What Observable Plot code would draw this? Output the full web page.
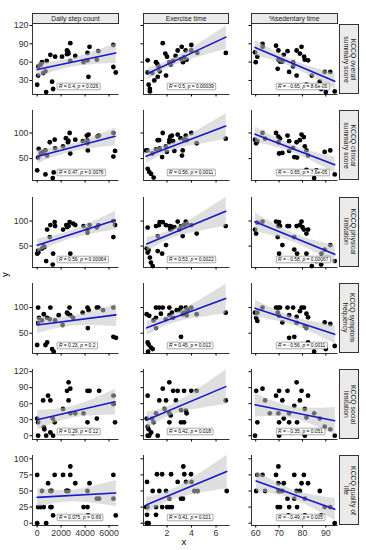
<!DOCTYPE html>
<html><head><meta charset="utf-8">
<script src="https://cdn.jsdelivr.net/npm/d3@7"></script>
<script src="https://cdn.jsdelivr.net/npm/@observablehq/plot@0.6"></script>
<style>
body{margin:0;background:#fff;font-family:"Liberation Sans",Arial,sans-serif;}
#chart{position:relative;width:366px;height:550px;overflow:hidden;background:#fff;}
.strip{position:absolute;box-sizing:border-box;border:0.8px solid #333;background:#ebebeb;color:#1a1a1a;font-size:6.8px;display:flex;align-items:center;justify-content:center;line-height:1.1;}
.strip span{white-space:pre;text-align:center;}
.strip.right span{transform:rotate(90deg);}
.axtitle{position:absolute;font-size:9.5px;color:#000;}
.panel{position:absolute;}
</style></head><body><div id="chart"></div><script>
// ---------- labels ----------
const colNames = ["Daily step count", "Exercise time", "%sedentary time"];
const rowNames = ["KCCQ overall\nsummary score", "KCCQ clinical\nsummary score", "KCCQ physical\nlimitation",
                  "KCCQ symptom\nfrequency", "KCCQ social\nlimitation", "KCCQ quality of\nlife"];
const xTicks = [[0, 2000, 4000, 6000], [2, 4, 6], [60, 70, 80, 90]];
const yTicks = [[30, 60, 90, 120], [50, 100], [50, 100], [50, 100], [0, 30, 60, 90, 120], [0, 25, 50, 75, 100]];
const xDomains = [[-390, 6830], [0.08, 7.14], [58.2, 95.2]];
const yDomains = [[7, 121.6], [7.2, 144], [7.2, 147], [10.4, 147], [-7.1, 124], [-3.6, 105.1]];
const annX = [1650, 2.0, 68.7];
const annText = [
  ["R = 0.4, p = 0.026", "R = 0.5, p = 0.00039", "R = - 0.65, p = 8.6e-05"],
  ["R = 0.47, p = 0.0076", "R = 0.56, p = 0.0011", "R = - 0.65, p = 7.6e-05"],
  ["R = 0.59, p = 0.00064", "R = 0.53, p = 0.0022", "R = - 0.58, p = 0.00067"],
  ["R = 0.23, p = 0.2", "R = 0.45, p = 0.012", "R = - 0.56, p = 0.0011"],
  ["R = 0.29, p = 0.12", "R = 0.42, p = 0.018", "R = - 0.35, p = 0.051"],
  ["R = 0.075, p = 0.69", "R = 0.41, p = 0.021", "R = - 0.49, p = 0.005"]
];

// ---------- data: [x, y] per panel ----------
const overallSteps = [[0,23],[80,38],[100,53],[400,60],[800,62],[500,42],[690,45],[1100,72],[1500,69],[1245,28],[750,11],[1330,16],[2075,69],[2490,79],[2570,77],[2620,74],[2765,91],[2765,62],[3180,70],[3870,60],[4200,63],[4200,75],[4370,85],[4280,36],[5110,78],[4980,64],[6360,88],[6360,52],[6560,43],[2490,73],[300,56]];
const overallExercise = [[0.42,63],[0.42,43],[0.5,23],[0.6,16],[0.6,12],[0.96,30],[1.24,36],[1.1,60],[1.2,57],[1.65,91],[1.86,74],[1.92,38],[2.19,60],[2.3,56],[2.87,79],[3.14,65],[3.52,79],[3.39,68],[3.98,88],[3.98,79],[3.6,64],[4.47,75],[6.8,75],[2.5,62],[3.3,60],[1.4,45],[2.0,69],[3.2,85],[1.3,53],[2.7,70],[0.8,42]];
const overallSedentary = [[59.7,76],[60,60],[60.7,69],[62.9,90],[68.7,87],[69.7,79],[69.7,64],[69.4,49],[70.4,61],[71.4,61],[73.6,78],[74.3,44],[76,53],[77.5,79],[78.9,74],[79.6,85],[77.5,38],[80.7,69],[81,64],[82.4,63],[81.7,23],[87.4,28],[89.5,44],[91.9,44],[93.8,12],[72,72],[76,60],[84,38],[88,16],[90,11],[63,85]];
const clinicalSteps = [[0,27],[80,52],[130,69],[500,63],[690,66],[830,56],[1050,82],[1460,87],[690,19],[1380,23],[1300,12],[2160,74],[2400,90],[2570,82],[2710,100],[2760,60],[3180,87],[3810,84],[4150,95],[4290,97],[4200,86],[4230,66],[5030,93],[5150,95],[6360,100],[6500,65],[6360,54],[4200,80],[2600,85],[1500,70],[300,60]];
const clinicalExercise = [[0.29,66],[0.42,30],[0.55,24],[0.7,20],[0.91,13],[0.4,66],[1.1,68],[1.24,86],[1.35,86],[1.65,100],[1.98,63],[1.6,53],[2.19,82],[2.27,93],[2.4,95],[2.87,97],[3.28,66],[3.22,56],[3.53,95],[3.98,100],[3.39,87],[3.6,86],[4.42,80],[6.79,89],[2.5,84],[1.9,74],[3.1,90],[2.2,87],[0.8,60],[1.4,70],[2.6,65]];
const clinicalSedentary = [[59.7,87],[60.2,80],[60.7,84],[62.9,100],[64,89],[68.7,100],[69.7,93],[70.4,89],[69.7,82],[70,60],[71.4,61],[73.6,95],[74.3,84],[74.3,65],[76,71],[76.5,53],[77.7,52],[77.5,82],[78.9,86],[79.6,97],[80.6,92],[81,74],[81.7,66],[82.4,56],[81.7,28],[89.5,63],[91.9,66],[93.8,19],[85,12],[90,23],[86,27]];
const physicalSteps = [[0,35],[80,41],[100,37],[550,50],[600,48],[830,83],[1100,92],[1050,68],[1460,98],[750,20],[1300,13],[1330,35],[2160,83],[2430,92],[2620,90],[2765,35],[2710,98],[3180,92],[3870,90],[4200,83],[4200,77],[4370,92],[5110,92],[4980,87],[6360,100],[6500,92],[6360,68],[2500,88],[1500,90],[400,45],[3000,95]];
const physicalExercise = [[0.42,87],[0.34,45],[0.42,37],[0.6,27],[0.69,17],[0.83,10],[1.1,90],[1.35,92],[1.24,70],[1.65,98],[1.24,40],[1.6,35],[1.92,52],[2.19,90],[2.27,83],[2.4,85],[2.87,99],[3.28,70],[3.14,90],[3.53,99],[3.39,92],[3.98,92],[4.42,75],[6.79,90],[3.6,95],[2.6,88],[1.9,92],[0.5,42],[3.0,83],[2.3,90],[1.4,98]];
const physicalSedentary = [[59.7,83],[60.2,75],[60.7,97],[62.9,99],[68.7,99],[69.7,90],[70.4,90],[69.4,68],[71.4,52],[70,35],[73.6,90],[74.3,90],[76.5,68],[76.5,43],[77.7,35],[77.5,90],[78.9,92],[79.6,99],[80.6,83],[81.7,75],[82.4,83],[81.7,35],[88.1,35],[89.5,43],[91.9,52],[93.8,20],[84,10],[88,13],[70,98],[80,88],[86,20]];
const symptomSteps = [[80,100],[1100,100],[550,87],[830,80],[1050,77],[2490,90],[2570,88],[2760,85],[4200,100],[4300,95],[4980,100],[5100,100],[6360,100],[0,27],[80,70],[690,27],[830,32],[1245,19],[1380,14],[2120,66],[4230,60],[6360,43],[6580,41],[400,75],[150,80],[1500,75],[3000,80],[3800,90],[5500,95],[2700,100],[1800,85]];
const symptomExercise = [[0.34,87],[0.55,84],[1.1,100],[1.35,100],[1.65,100],[1.1,80],[2.19,100],[2.4,90],[2.79,95],[3.14,100],[3.28,87],[0.42,32],[0.5,28],[0.69,22],[0.83,19],[0.45,14],[1.1,60],[3.14,43],[3.53,100],[3.98,100],[3.39,90],[3.6,85],[4.42,87],[6.79,90],[1.9,77],[2.5,80],[3.0,95],[1.5,88],[2.2,85],[0.9,75],[3.7,95]];
const symptomSedentary = [[59.7,90],[60.2,80],[60.7,90],[62.9,100],[68.7,100],[69.7,100],[70.4,100],[69.4,90],[70,84],[73.6,100],[76,100],[79.6,100],[78.9,93],[80.6,100],[74.3,85],[77.5,82],[81.7,88],[82.4,81],[60.7,74],[71.4,71],[77.5,70],[81,64],[81.7,60],[74.3,41],[76.5,43],[82.4,32],[89.5,71],[91.9,68],[93.8,25],[85,14],[90,19]];
const socialSteps = [[0,32],[80,25],[500,66],[910,75],[1100,66],[550,16],[600,12],[1300,32],[1460,25],[2160,50],[2490,84],[2620,100],[2765,88],[2620,66],[2765,42],[3180,42],[3870,42],[4200,84],[4370,84],[4200,25],[4980,32],[5170,84],[6360,75],[6360,59],[6500,25],[80,0],[750,0],[1100,6],[1330,0],[3000,5],[4500,10]];
const socialExercise = [[0.42,75],[0.34,32],[0.42,17],[0.5,12],[0.78,32],[1.1,42],[1.37,66],[1.65,88],[1.92,66],[2.19,100],[2.19,42],[2.3,38],[2.73,66],[2.87,84],[2.19,25],[3.14,25],[3.14,48],[3.39,84],[3.98,84],[4.42,84],[3.53,47],[3.6,42],[3.39,25],[6.79,66],[0.42,0],[0.55,0],[0.7,6],[1.24,0],[1.8,50],[2.5,84],[0.9,25]];
const socialSedentary = [[60.2,84],[62.9,88],[64,66],[60.7,25],[68.7,75],[70,84],[71.4,66],[69.7,42],[70,25],[73.6,84],[74.3,42],[74.3,25],[77.5,100],[76.5,56],[77.7,25],[78.9,66],[79.6,84],[81,50],[81.7,34],[82.4,75],[87.4,32],[89.5,17],[91.9,12],[59.7,0],[93.8,0],[70,0],[75,6],[81,0],[66,42],[72,32],[85,42]];
const qolSteps = [[0,75],[0,0],[80,25],[400,50],[550,25],[750,0],[910,62],[1100,50],[1200,50],[1100,25],[1330,12],[1460,75],[2160,75],[2430,50],[2600,50],[2765,75],[2765,88],[3180,62],[3870,25],[4200,25],[4200,50],[4370,62],[4250,12],[4980,38],[5170,38],[6360,75],[6360,38],[6560,12],[1200,25],[2500,50],[300,25]];
const qolExercise = [[0.37,64],[0.29,25],[0.4,25],[0.37,13],[0.35,0],[0.42,0],[0.5,0],[0.83,50],[1.1,13],[1.1,25],[1.18,76],[1.6,76],[1.37,50],[1.6,25],[1.92,50],[2.0,25],[2.2,25],[2.4,25],[2.19,38],[2.33,76],[2.87,64],[3.14,38],[3.33,88],[3.41,76],[3.3,38],[3.55,64],[3.96,76],[4.0,64],[4.23,50],[4.5,50],[6.87,50]];
const qolSedentary = [[60.2,50],[60.7,75],[62.9,75],[64,50],[68.7,75],[69.7,88],[69.7,62],[69.7,50],[70.4,50],[69.4,25],[70.4,25],[71.4,50],[73.6,38],[74.3,25],[76.5,75],[76.5,38],[77.5,50],[78.9,50],[77.7,25],[79.6,62],[80.6,75],[81,38],[82.4,62],[87.4,50],[89.5,25],[91.9,25],[93.8,0],[74,12],[81,12],[88,12],[72,62]];

const panels = [
  [overallSteps, overallExercise, overallSedentary],
  [clinicalSteps, clinicalExercise, clinicalSedentary],
  [physicalSteps, physicalExercise, physicalSedentary],
  [symptomSteps, symptomExercise, symptomSedentary],
  [socialSteps, socialExercise, socialSedentary],
  [qolSteps, qolExercise, qolSedentary]
];

// ---------- layout ----------
const colLeft = [32.3, 142.8, 251];
const rowTop = [24.2, 110.4, 196.6, 282.8, 369, 455.2];
const PW = 86.5, PH = 70;
const ML = 30, MR = 2, MT = 2, MB = 16;
const chart = document.getElementById("chart");
const NS = "http://www.w3.org/2000/svg";
const fmt = d => String(d);
const blank = () => "";

function boxAnnotations(svg) {
  const texts = Array.from(svg.querySelectorAll("text")).filter(t => /^R = /.test(t.textContent));
  texts.forEach(t => {
    const s = t.textContent;
    const m = s.match(/^R(.*), p(.*)$/);
    if (m) {
      while (t.firstChild) t.removeChild(t.firstChild);
      const add = (txt, it) => {
        const ts = document.createElementNS(NS, "tspan");
        ts.textContent = txt;
        if (it) ts.setAttribute("font-style", "italic");
        t.appendChild(ts);
      };
      add("R", true); add(m[1] + ", ", false); add("p", true); add(m[2], false);
    }
    let b;
    try { b = t.getBBox(); } catch (e) { b = null; }
    if (!b || !b.width) return;
    const rect = document.createElementNS(NS, "rect");
    rect.setAttribute("x", b.x - 1.8);
    rect.setAttribute("y", b.y - 0.8);
    rect.setAttribute("width", b.width + 3.6);
    rect.setAttribute("height", b.height + 1.6);
    rect.setAttribute("rx", 0.8);
    rect.setAttribute("fill", "#ffffff");
    rect.setAttribute("stroke", "#555555");
    rect.setAttribute("stroke-width", "0.5");
    const tr = t.getAttribute("transform");
    if (tr) rect.setAttribute("transform", tr);
    t.parentNode.insertBefore(rect, t);
  });
}

for (let r = 0; r < 6; r++) {
  for (let c = 0; c < 3; c++) {
    const pts = panels[r][c];
    const svg = Plot.plot({
      width: PW + ML + MR, height: PH + MT + MB,
      marginLeft: ML, marginRight: MR, marginTop: MT, marginBottom: MB,
      x: {domain: xDomains[c]},
      y: {domain: yDomains[r]},
      style: {background: "transparent", overflow: "visible", fontFamily: "'Liberation Sans', Arial, sans-serif", color: "#000"},
      marks: [
        Plot.dot(pts, {x: d => d[0], y: d => d[1], r: 2.4, fill: "#000", stroke: null}),
        Plot.linearRegressionY(pts, {x: d => d[0], y: d => d[1], stroke: "#1818cc", strokeWidth: 1.6,
          fill: "#c4c4c4", fillOpacity: 0.55, clip: true}),
        Plot.ruleX([xDomains[c][0]], {stroke: "#000", strokeWidth: 0.8}),
        Plot.ruleY([yDomains[r][0]], {stroke: "#000", strokeWidth: 0.8}),
        Plot.axisY({ticks: yTicks[r], tickSize: 2.5, tickPadding: 1.5, fontSize: 8.8, label: null,
          tickFormat: c === 0 ? fmt : blank, stroke: "#000", fill: "#333"}),
        Plot.axisX({ticks: xTicks[c], tickSize: 2.5, tickPadding: 2, fontSize: 8.8, label: null,
          tickFormat: r === 5 ? fmt : blank, stroke: "#000", fill: "#333"}),
        Plot.text([{x: annX[c], label: annText[r][c]}], {x: "x", text: "label", frameAnchor: "bottom",
          textAnchor: "start", dx: 2, dy: -6.5, fontSize: 4.9, fill: "#000"})
      ]
    });
    svg.classList.add("panel");
    svg.style.position = "absolute";
    svg.style.left = (colLeft[c] - ML) + "px";
    svg.style.top = (rowTop[r] - MT) + "px";
    chart.appendChild(svg);
    boxAnnotations(svg);
  }
}

// column strips
colNames.forEach((name, c) => {
  const d = document.createElement("div");
  d.className = "strip";
  d.style.left = colLeft[c] + "px"; d.style.top = "12.8px";
  d.style.width = PW + "px"; d.style.height = "11.4px";
  d.innerHTML = "<span></span>"; d.firstChild.textContent = name;
  chart.appendChild(d);
});
// row strips
rowNames.forEach((name, r) => {
  const d = document.createElement("div");
  d.className = "strip right";
  d.style.left = "339px"; d.style.top = rowTop[r] + "px";
  d.style.width = "20px"; d.style.height = PH + "px";
  d.innerHTML = "<span></span>"; d.firstChild.textContent = name;
  chart.appendChild(d);
});
// axis titles
const xt = document.createElement("div");
xt.className = "axtitle"; xt.textContent = "x";
xt.style.left = "181.5px"; xt.style.top = "536px";
chart.appendChild(xt);
const yt = document.createElement("div");
yt.className = "axtitle"; yt.textContent = "y";
yt.style.left = "2px"; yt.style.top = "269px"; yt.style.transform = "rotate(-90deg)";
chart.appendChild(yt);
</script></body></html>
